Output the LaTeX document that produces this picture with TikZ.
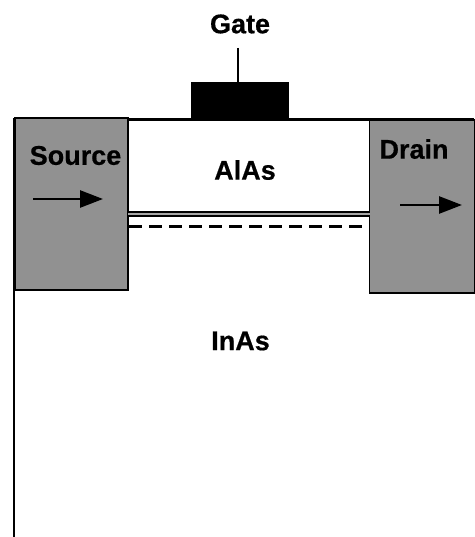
\documentclass[tikz,border=0pt]{standalone}
\usepackage{fontspec}
\setmainfont[BoldFeatures={FakeBold=0.6}]{Liberation Sans}
\usetikzlibrary{arrows.meta}
\definecolor{contact}{gray}{0.57}
\tikzset{
  lbl/.style={inner sep=0pt,font=\fontsize{27}{28}\selectfont\bfseries,text=black},
  flow/.style={line width=2.6pt,-{Triangle[length=23pt,width=17pt]}},
  outline/.style={line width=2.6pt,draw=black},
  contactbox/.style={fill=contact,draw=black,line width=1.8pt}
}
\begin{document}
\begin{tikzpicture}[x=1pt,y=-1pt]
\useasboundingbox (0,0) rectangle (474,537);
% outline
\coordinate (bl) at (14,537);
\coordinate (tl) at (14,118);
\coordinate (tr) at (474,119.5);
\draw[outline] (bl) -- (tl);
\draw[outline] (128,119.5) -- (tr);
% contacts
\path[contactbox] (15,118) rectangle (128,290);
\path[contactbox] (369.5,120) rectangle (475,293);
% gate
\fill[black] (191,82) rectangle (289,120);
\coordinate (gs) at (238,48);
\coordinate (ge) at (238,82);
\draw[line width=1.5pt] (gs) -- (ge);
% channel
\coordinate (c1a) at (128,212);
\coordinate (c1b) at (369.5,212);
\coordinate (c2a) at (128,216);
\coordinate (c2b) at (369.5,216);
\coordinate (d1) at (129,226.5);
\coordinate (d2) at (363,226.5);
\fill[black!35] (128,212) rectangle (369.5,216);
\draw[line width=1.8pt] (c1a) -- (c1b);
\draw[line width=1.8pt] (c2a) -- (c2b);
\draw[line width=2.3pt,dash pattern=on 13pt off 7pt] (d1) -- (d2);
% arrows
\coordinate (a1) at (33,199);
\coordinate (a2) at (103,199);
\coordinate (b1) at (400,205);
\coordinate (b2) at (462,205);
\draw[flow] (a1) -- (a2);
\draw[flow] (b1) -- (b2);
% labels
\node[lbl] (gate) at (240,24) {Gate};
\node[lbl] (source) at (75.5,155.5) {Source};
\node[lbl] (alas) at (245,170) {AlAs};
\node[lbl] (drain) at (414,149) {Drain};
\node[lbl] (inas) at (240.5,341) {InAs};
\end{tikzpicture}
\end{document}
